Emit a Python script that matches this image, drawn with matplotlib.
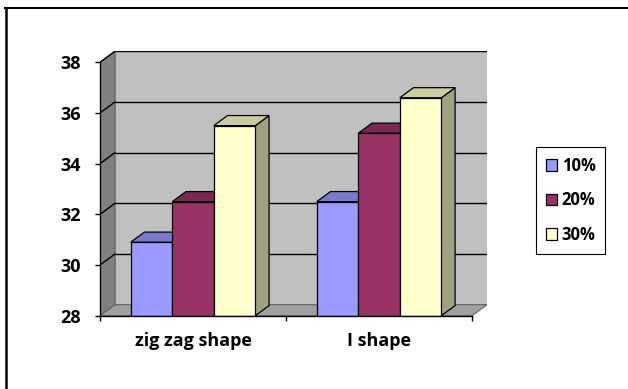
import numpy
from matplotlib import pyplot
from matplotlib.colors import to_rgb
from matplotlib.lines import Line2D
from matplotlib.patches import Polygon

categories = ["zig zag shape", "I shape"]
series = ["10%", "20%", "30%"]
values_10 = [30.9, 32.5]
values_20 = [32.5, 35.2]
values_30 = [35.5, 36.6]
yticks = [28, 30, 32, 34, 36, 38]

colors = ["#9999FF", "#993366", "#FFFFCC"]
WALL = "#C0C0C0"
SIDE_WALL = "#808080"
FLOOR = "#A0A0A0"

YMIN, YMAX = 28, 38
DX, DY = 0.0803, 0.434      # depth of the walls, in data units
BAR_DEPTH = 0.92            # bar depth as a fraction of the wall depth
BAR_W = 0.2233


def shade(color, f):
    return tuple(c * f for c in to_rgb(color))


def drawWalls(ax, ncat):
    # left side wall
    ax.add_patch(Polygon([(0, YMIN), (DX, YMIN + DY), (DX, YMAX + DY), (0, YMAX)],
                         closed=True, facecolor=SIDE_WALL, edgecolor="#606060",
                         lw=0.8, zorder=0))
    # back wall
    ax.add_patch(Polygon([(DX, YMIN + DY), (ncat + DX, YMIN + DY),
                          (ncat + DX, YMAX + DY), (DX, YMAX + DY)],
                         closed=True, facecolor=WALL, edgecolor="#808080",
                         lw=0.8, zorder=0))
    # floor
    ax.add_patch(Polygon([(0, YMIN), (ncat, YMIN), (ncat + DX, YMIN + DY),
                          (DX, YMIN + DY)],
                         closed=True, facecolor=FLOOR, edgecolor="#606060",
                         lw=0.8, zorder=0.5))
    for v in yticks[1:]:
        ax.plot([DX, ncat + DX], [v + DY, v + DY], color="black", lw=1.0,
                zorder=1, solid_capstyle="butt")
        ax.plot([0, DX], [v, v + DY], color="black", lw=1.0, zorder=1)


def drawBar3d(ax, x0, width, value, color, z):
    bdx, bdy = DX * BAR_DEPTH, DY * BAR_DEPTH
    x1 = x0 + width
    side = Polygon([(x1, YMIN), (x1 + bdx, YMIN + bdy), (x1 + bdx, value + bdy),
                    (x1, value)], closed=True, facecolor=shade(color, 0.63),
                   edgecolor="black", lw=0.9, zorder=z)
    top = Polygon([(x0, value), (x0 + bdx, value + bdy), (x1 + bdx, value + bdy),
                   (x1, value)], closed=True, facecolor=shade(color, 0.8),
                  edgecolor="black", lw=0.9, zorder=z)
    ax.add_patch(side)
    ax.add_patch(top)


pyplot.rcParams['font.family'] = 'Open Sans'
pyplot.rcParams['font.weight'] = 'bold'

fig = pyplot.figure(figsize=(6.28, 3.89), dpi=100)
ax = fig.add_axes([100 / 628, 1 - 315.7 / 389, 387 / 628, 264.4 / 389])
ax.set_facecolor("none")

ncat = len(categories)
drawWalls(ax, ncat)

centers = numpy.arange(ncat) + 0.5
handles = []
for j, (label, vals) in enumerate(zip(series, (values_10, values_20, values_30))):
    xs = centers + (j - 1) * BAR_W
    bars = ax.bar(xs, numpy.array(vals) - YMIN, bottom=YMIN, width=BAR_W,
                  color=colors[j], edgecolor="black", lw=0.9, label=label,
                  zorder=3 + 2 * j)
    for x, v in zip(xs, vals):
        drawBar3d(ax, x - BAR_W / 2, BAR_W, v, colors[j], 2 + 2 * j)
    handles.append(bars)

ax.set_xlim(0, ncat + DX)
ax.set_ylim(YMIN, YMAX + DY)
for s in ("top", "right"):
    ax.spines[s].set_visible(False)
ax.spines["left"].set_bounds(YMIN, YMAX)
ax.spines["bottom"].set_bounds(0, ncat)
for s in ("left", "bottom"):
    ax.spines[s].set_linewidth(1.0)
    ax.spines[s].set_zorder(10)

ax.set_yticks(yticks)
ax.set_yticklabels([str(t) for t in yticks])
ax.tick_params(axis="y", direction="out", length=3.6, width=1, pad=10,
               labelsize=13)

ax.set_xticks(centers)
ax.set_xticklabels(categories)
ax.set_xticks(numpy.arange(ncat + 1), minor=True)
ax.tick_params(axis="x", which="major", length=0, pad=12, labelsize=13)
ax.tick_params(axis="x", which="minor", direction="out", length=3.6, width=1)

leg = fig.legend(handles=handles, labels=series, loc="upper left",
                 bbox_to_anchor=(535.7 / 628, 1 - 146.7 / 389),
                 borderaxespad=0, fancybox=False, framealpha=1,
                 edgecolor="black", fontsize=12, handlelength=0.7,
                 handleheight=0.7, handletextpad=0.25, labelspacing=1.0,
                 borderpad=0.6)
leg.get_frame().set_linewidth(0.8)

# chart frame
fig.add_artist(Line2D([5 / 628, 1], [1 - 7.7 / 389] * 2, transform=fig.transFigure,
                      color="black", lw=1.5))
fig.add_artist(Line2D([6 / 628] * 2, [0, 1 - 7.7 / 389], transform=fig.transFigure,
                      color="black", lw=1.8))

fig.savefig("out.png", dpi=100)
